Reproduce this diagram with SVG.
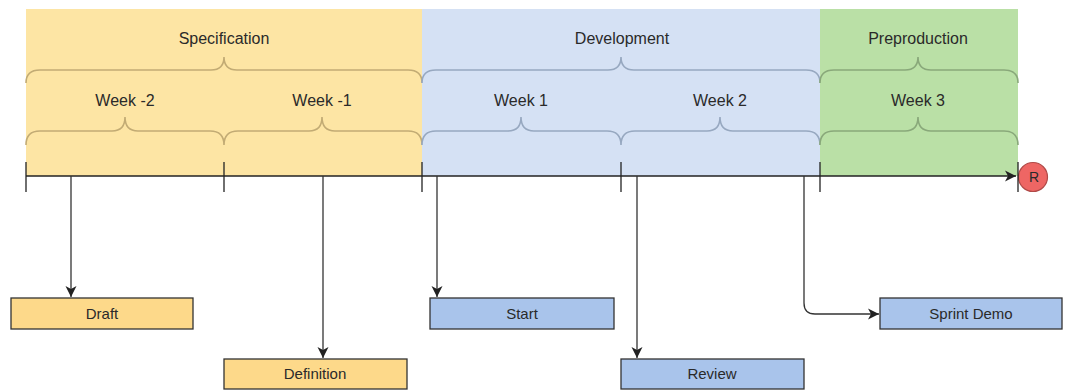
<svg xmlns="http://www.w3.org/2000/svg" width="1075" height="392" viewBox="0 0 1075 392">
<defs>
<marker id="ah" markerWidth="12" markerHeight="12" refX="11" refY="6" orient="auto" markerUnits="userSpaceOnUse">
<path d="M0,0.5 L11,6 L0,11.5 L3,6 Z" fill="#222"/>
</marker>
<style>
.lbl{font-family:"Liberation Sans",Arial,sans-serif;font-size:16px;fill:#2a2a2a;text-anchor:middle}
.blbl{font-family:"Liberation Sans",Arial,sans-serif;font-size:15px;fill:#2a2a2a;text-anchor:middle}
.brace{fill:none;stroke-width:1.6}
.tick{stroke:#222;stroke-width:1.3}
.con{fill:none;stroke:#333;stroke-width:1.3}
.yb{fill:#fdd98a;stroke:#333;stroke-width:1.3}
.bb{fill:#a9c4eb;stroke:#333;stroke-width:1.3}
</style>
</defs>
<rect width="1075" height="392" fill="#ffffff"/>
<g id="phase-specification">
<rect x="26" y="9" width="396" height="167" fill="#fde5a4"/>
<text class="lbl" x="224" y="44">Specification</text>
<path class="brace" stroke="#c2ab74" d="M26,83 Q26,70 40,70 L211,70 Q224,70 224,57 Q224,70 237,70 L408,70 Q422,70 422,83"/>
<text class="lbl" x="125" y="106">Week -2</text>
<text class="lbl" x="322" y="106">Week -1</text>
<path class="brace" stroke="#c2ab74" d="M26,145 Q26,131 40,131 L112,131 Q125,131 125,117 Q125,131 138,131 L210,131 Q224,131 224,145 Q224,131 238,131 L309,131 Q322,131 322,117 Q322,131 335,131 L408,131 Q422,131 422,145"/>
</g>
<g id="phase-development">
<rect x="422" y="9" width="398" height="167" fill="#d5e1f4"/>
<text class="lbl" x="622" y="44">Development</text>
<path class="brace" stroke="#97a8c0" d="M422,83 Q422,70 436,70 L608,70 Q621,70 621,57 Q621,70 634,70 L806,70 Q820,70 820,83"/>
<text class="lbl" x="521" y="106">Week 1</text>
<text class="lbl" x="720" y="106">Week 2</text>
<path class="brace" stroke="#97a8c0" d="M422,145 Q422,131 436,131 L508,131 Q521,131 521,117 Q521,131 534,131 L607,131 Q621,131 621,145 Q621,131 635,131 L707,131 Q720,131 720,117 Q720,131 733,131 L806,131 Q820,131 820,145"/>
</g>
<g id="phase-preproduction">
<rect x="820" y="9" width="198" height="167" fill="#bae0a6"/>
<text class="lbl" x="918" y="44">Preproduction</text>
<path class="brace" stroke="#89a87a" d="M820,83 Q820,70 834,70 L905,70 Q918,70 918,57 Q918,70 931,70 L1004,70 Q1018,70 1018,83"/>
<text class="lbl" x="918" y="106">Week 3</text>
<path class="brace" stroke="#89a87a" d="M820,145 Q820,131 834,131 L905,131 Q918,131 918,117 Q918,131 931,131 L1004,131 Q1018,131 1018,145"/>
</g>
<g id="timeline">
<line class="tick" x1="26" y1="176" x2="1016" y2="176" marker-end="url(#ah)"/>
<line class="tick" x1="26" y1="162" x2="26" y2="192"/>
<line class="tick" x1="224" y1="162" x2="224" y2="192"/>
<line class="tick" x1="422" y1="162" x2="422" y2="192"/>
<line class="tick" x1="621" y1="162" x2="621" y2="192"/>
<line class="tick" x1="820" y1="162" x2="820" y2="192"/>
</g>
<g id="release">
<circle cx="1033" cy="177" r="14.5" fill="#ee6664" stroke="#b04a48" stroke-width="1.2"/>
<line class="tick" x1="1018" y1="162" x2="1018" y2="192"/>
<text class="blbl" x="1034" y="182" style="font-size:14px">R</text>
</g>
<g id="connectors">
<line class="con" x1="71" y1="176" x2="71" y2="297" marker-end="url(#ah)"/>
<line class="con" x1="323" y1="176" x2="323" y2="358" marker-end="url(#ah)"/>
<line class="con" x1="437" y1="176" x2="437" y2="297" marker-end="url(#ah)"/>
<line class="con" x1="637" y1="176" x2="637" y2="358" marker-end="url(#ah)"/>
<path class="con" d="M804,176 L804,303 Q804,314 815,314 L879,314" marker-end="url(#ah)"/>
</g>
<g id="node-draft"><rect class="yb" x="11" y="298" width="182" height="31"/><text class="blbl" x="102" y="319">Draft</text></g>
<g id="node-definition"><rect class="yb" x="224" y="359" width="183" height="30"/><text class="blbl" x="315" y="379">Definition</text></g>
<g id="node-start"><rect class="bb" x="430" y="298" width="184" height="31"/><text class="blbl" x="522" y="319">Start</text></g>
<g id="node-review"><rect class="bb" x="621" y="359" width="183" height="30"/><text class="blbl" x="712" y="379">Review</text></g>
<g id="node-sprint-demo"><rect class="bb" x="880" y="298" width="182" height="31"/><text class="blbl" x="971" y="319">Sprint Demo</text></g>
</svg>
